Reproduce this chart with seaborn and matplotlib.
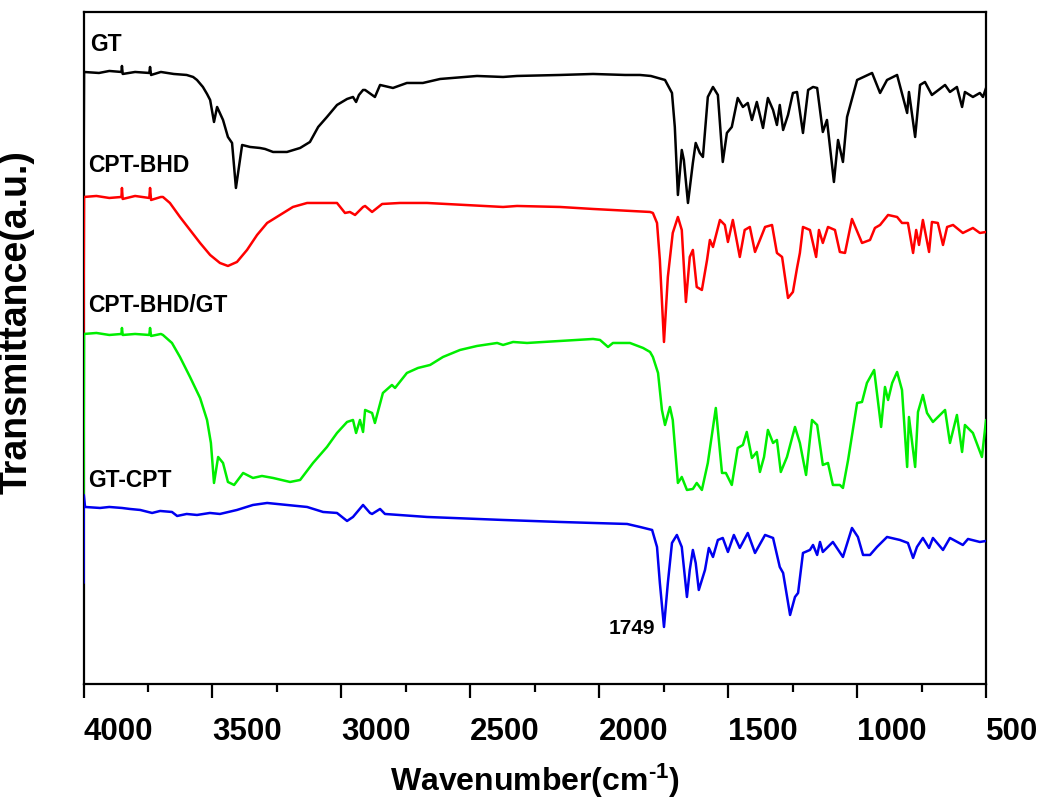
import matplotlib
matplotlib.use("Agg")
import matplotlib.pyplot as plt
import pandas as pd
import seaborn as sns
from matplotlib.ticker import MultipleLocator

# FTIR spectra: (wavenumber cm-1, transmittance a.u.)
GT = [(4000, 487), (3998, 612), (3940, 611), (3900, 613), (3853, 612), (3851, 618), (3848, 610),
      (3800, 612), (3745, 611), (3742, 617), (3738, 609), (3700, 612), (3650, 610), (3600, 609),
      (3575, 607), (3560, 604), (3537, 597), (3521, 590), (3509, 584), (3494, 562), (3482, 577),
      (3459, 564), (3440, 547), (3424, 541), (3409, 496), (3385, 539), (3354, 537), (3316, 536),
      (3296, 535), (3265, 532), (3211, 532), (3160, 536), (3122, 542), (3090, 557), (3056, 567),
      (3017, 579), (2978, 585), (2955, 587), (2943, 582), (2932, 589), (2916, 594), (2908, 594),
      (2870, 587), (2850, 599), (2800, 596), (2746, 601), (2684, 601), (2617, 605), (2474, 608),
      (2373, 607), (2319, 608), (2152, 609), (2024, 610), (1900, 609), (1842, 609), (1800, 608),
      (1745, 604), (1718, 591), (1707, 557), (1695, 489), (1680, 534), (1672, 524), (1656, 481),
      (1637, 521), (1626, 541), (1610, 531), (1598, 527), (1579, 587), (1559, 597), (1540, 589),
      (1521, 522), (1505, 551), (1486, 557), (1463, 586), (1443, 577), (1424, 581), (1408, 564),
      (1389, 582), (1365, 556), (1346, 586), (1326, 574), (1311, 559), (1300, 579), (1287, 554),
      (1268, 569), (1249, 591), (1233, 592), (1210, 551), (1190, 594), (1171, 597), (1155, 596),
      (1133, 552), (1117, 564), (1090, 502), (1074, 544), (1055, 522), (1039, 567), (1000, 604),
      (942, 611), (911, 591), (884, 604), (845, 609), (806, 571), (799, 592), (775, 547),
      (756, 599), (737, 602), (710, 589), (659, 599), (640, 592), (613, 597), (593, 577),
      (582, 592), (551, 587), (524, 591), (512, 587), (500, 596)]

CPT_BHD = [(4000, 351), (3998, 487), (3950, 488), (3900, 486), (3853, 487), (3851, 496), (3848, 485),
           (3800, 488), (3745, 486), (3742, 496), (3738, 484), (3700, 487), (3692, 487), (3665, 481),
           (3626, 467), (3587, 454), (3548, 441), (3509, 429), (3471, 421), (3440, 418), (3405, 422),
           (3366, 434), (3327, 449), (3288, 461), (3238, 469), (3188, 477), (3133, 481), (3056, 481),
           (3017, 481), (2986, 471), (2967, 472), (2947, 469), (2916, 477), (2908, 478), (2881, 472),
           (2842, 480), (2773, 481), (2668, 481), (2373, 477), (2319, 478), (2152, 477), (2024, 475),
           (1803, 472), (1792, 471), (1776, 461), (1765, 424), (1749, 342), (1734, 407), (1715, 451),
           (1695, 467), (1680, 454), (1664, 382), (1649, 427), (1637, 434), (1622, 397), (1602, 394),
           (1582, 424), (1571, 444), (1559, 437), (1532, 464), (1513, 459), (1501, 442), (1482, 464),
           (1455, 427), (1436, 454), (1416, 457), (1396, 432), (1377, 444), (1357, 457), (1330, 459),
           (1311, 431), (1291, 427), (1268, 386), (1249, 392), (1233, 416), (1222, 431), (1210, 457),
           (1183, 454), (1159, 427), (1148, 454), (1133, 441), (1113, 457), (1086, 454), (1067, 432),
           (1047, 431), (1020, 465), (981, 441), (950, 444), (931, 456), (911, 459), (880, 469),
           (845, 467), (826, 461), (803, 461), (783, 431), (771, 454), (760, 439), (745, 464),
           (721, 432), (710, 462), (687, 461), (667, 439), (651, 457), (628, 459), (590, 451),
           (551, 456), (524, 451), (500, 452)]

CPT_BHD_GT = [(4000, 187), (3998, 350), (3950, 351), (3900, 349), (3853, 350), (3851, 356), (3848, 349),
              (3800, 350), (3745, 349), (3742, 356), (3738, 348), (3700, 350), (3692, 349), (3657, 341),
              (3626, 327), (3587, 307), (3548, 286), (3521, 264), (3506, 241), (3494, 201), (3478, 227),
              (3459, 221), (3440, 202), (3416, 199), (3381, 211), (3343, 206), (3308, 208), (3265, 206),
              (3199, 202), (3160, 204), (3110, 221), (3056, 237), (3017, 251), (2978, 262), (2955, 264),
              (2943, 251), (2928, 264), (2916, 252), (2908, 274), (2881, 271), (2870, 261), (2839, 291),
              (2804, 299), (2792, 296), (2746, 311), (2703, 316), (2656, 319), (2606, 327), (2540, 334),
              (2474, 338), (2396, 341), (2373, 339), (2334, 342), (2280, 341), (2152, 343), (2024, 345),
              (1997, 344), (1966, 337), (1947, 341), (1881, 341), (1830, 336), (1803, 332), (1792, 327),
              (1772, 311), (1757, 274), (1745, 259), (1726, 277), (1715, 264), (1695, 201), (1680, 207),
              (1660, 194), (1637, 195), (1622, 201), (1602, 194), (1579, 221), (1548, 276), (1524, 211),
              (1509, 211), (1486, 199), (1463, 236), (1443, 239), (1428, 252), (1408, 226), (1389, 232),
              (1377, 212), (1361, 227), (1346, 254), (1326, 241), (1311, 244), (1296, 212), (1272, 227),
              (1241, 257), (1222, 241), (1198, 209), (1175, 264), (1155, 259), (1133, 219), (1113, 221),
              (1094, 199), (1067, 199), (1055, 196), (1035, 224), (1000, 281), (981, 282), (962, 301),
              (934, 314), (907, 257), (892, 297), (880, 284), (864, 301), (845, 312), (826, 294),
              (806, 217), (799, 267), (775, 217), (764, 272), (745, 289), (729, 271), (706, 262),
              (659, 274), (640, 241), (613, 269), (593, 232), (582, 259), (551, 251), (516, 227),
              (500, 264)]

GT_CPT = [(4000, 101), (3999, 189), (3994, 177), (3936, 176), (3900, 177), (3851, 176), (3820, 175),
          (3780, 174), (3734, 171), (3703, 173), (3657, 172), (3637, 168), (3600, 170), (3560, 169),
          (3510, 171), (3471, 170), (3405, 174), (3343, 179), (3288, 181), (3211, 179), (3133, 177),
          (3071, 172), (3017, 171), (2978, 163), (2955, 167), (2916, 179), (2889, 171), (2881, 170),
          (2850, 175), (2831, 170), (2668, 167), (2373, 164), (2152, 162), (2024, 161), (1892, 160),
          (1842, 157), (1795, 154), (1776, 137), (1765, 101), (1749, 57), (1734, 101), (1718, 141),
          (1699, 149), (1680, 137), (1660, 87), (1649, 114), (1637, 134), (1626, 121), (1614, 94),
          (1590, 114), (1575, 136), (1559, 127), (1540, 144), (1521, 146), (1501, 132), (1478, 149),
          (1455, 136), (1424, 151), (1396, 131), (1357, 149), (1326, 146), (1300, 117), (1287, 111),
          (1260, 69), (1241, 87), (1229, 91), (1210, 131), (1183, 134), (1171, 139), (1155, 129),
          (1144, 142), (1133, 132), (1094, 142), (1055, 127), (1020, 156), (997, 147), (977, 129),
          (950, 129), (923, 137), (884, 147), (834, 144), (803, 141), (783, 126), (768, 137),
          (745, 146), (721, 136), (706, 146), (667, 134), (640, 146), (590, 139), (570, 145),
          (524, 142), (500, 143)]

SAMPLES = ["GT", "CPT-BHD", "CPT-BHD/GT", "GT-CPT"]
COLORS = ["#000000", "#ff0000", "#00ee00", "#0000f0"]
# label anchor (wavenumber, transmittance) for each curve name
LABEL_POS = [(3975, 639), (3983, 518), (3983, 378), (3983, 203)]
PEAK_LABEL = "1749"
PEAK_POS = (1784, 55)

frames = []
for name, pts in zip(SAMPLES, [GT, CPT_BHD, CPT_BHD_GT, GT_CPT]):
    d = pd.DataFrame(pts, columns=["wavenumber", "transmittance"])
    d["sample"] = name
    frames.append(d)
df = pd.concat(frames, ignore_index=True)

sns.set_style("white")
plt.rcParams["font.family"] = ["Liberation Sans", "DejaVu Sans"]
plt.rcParams["font.weight"] = "bold"
plt.rcParams["text.color"] = "black"
plt.rcParams["axes.labelcolor"] = "black"
plt.rcParams["xtick.color"] = "black"
plt.rcParams["mathtext.fontset"] = "custom"
plt.rcParams["mathtext.rm"] = "Liberation Sans:bold"
plt.rcParams["mathtext.default"] = "rm"

fig = plt.figure(figsize=(10.44, 7.98), dpi=100)
ax = fig.add_axes([0.080, 0.1429, 0.8645, 0.8421])

sns.lineplot(data=df, x="wavenumber", y="transmittance", hue="sample",
             hue_order=SAMPLES, palette=COLORS, sort=False, estimator=None,
             linewidth=1.8, legend=False, ax=ax, zorder=3)

for name, (x, y) in zip(SAMPLES, LABEL_POS):
    ax.text(x, y, name, fontsize=16.5, fontweight="bold", ha="left", va="center",
            color="black")
ax.text(PEAK_POS[0], PEAK_POS[1], PEAK_LABEL, fontsize=15, fontweight="bold",
        ha="right", va="center", color="black")

ax.set_xlim(4000, 500)
ax.set_ylim(0, 672)
ax.xaxis.set_major_locator(MultipleLocator(500))
ax.xaxis.set_minor_locator(MultipleLocator(250))
ax.set_yticks([])
ax.tick_params(axis="x", which="major", bottom=True, direction="out",
               length=10, width=1.6, labelsize=22.5, pad=14, color="black",
               labelcolor="black")
ax.tick_params(axis="x", which="minor", bottom=True, direction="out",
               length=5.5, width=1.6, color="black")
for lab in ax.get_xticklabels():
    lab.set_horizontalalignment("left")
    lab.set_fontweight("bold")

for sp in ax.spines.values():
    sp.set_visible(True)
    sp.set_color("black")
    sp.set_linewidth(1.6)

ax.set_xlabel(r"Wavenumber(cm$^{\text{-1}}$)", fontsize=23, fontweight="bold",
              color="black")
ax.set_ylabel("Transmittance(a.u.)", fontsize=27, fontweight="bold", color="black")
ax.xaxis.set_label_coords(0.5, -0.115)
ax.yaxis.set_label_coords(-0.054, 0.539)

fig.savefig("out.png", dpi=100)
